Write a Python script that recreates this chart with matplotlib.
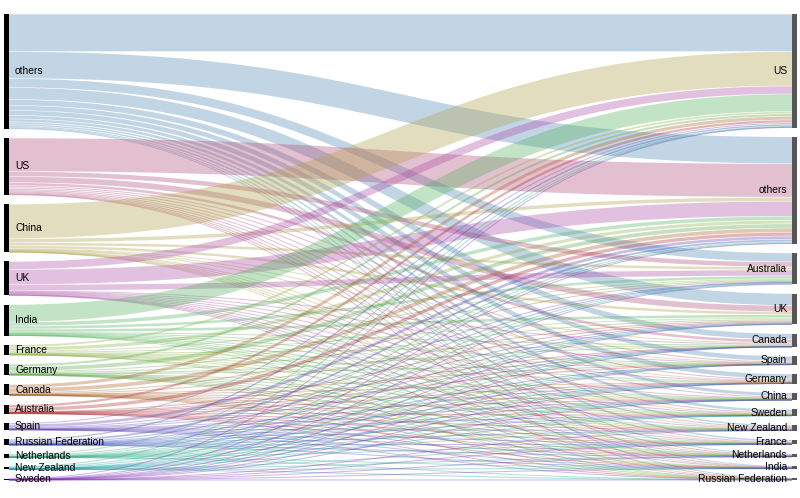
import numpy as np
import matplotlib
matplotlib.use("Agg")
import matplotlib.pyplot as plt
from matplotlib.path import Path
from matplotlib.patches import PathPatch, Rectangle

sources = ["others", "US", "China", "UK", "India", "France", "Germany", "Canada",
           "Australia", "Spain", "Russian Federation", "Netherlands", "New Zealand", "Sweden"]
targets = ["US", "others", "Australia", "UK", "Canada", "Spain", "Germany", "China",
           "Sweden", "New Zealand", "France", "Netherlands", "India", "Russian Federation"]

# flows[source][target], columns in the order of `targets`
flows = {
    "others":             [37.6, 27, 9, 12, 6, 5, 5, 3.5, 3, 2, 2, 1.2, 1, 0.7],
    "US":                 [0, 33.5, 5, 6.2, 3, 1.5, 1.5, 1.5, 1.2, 1, 1, 0.7, 0.5, 0.4],
    "China":              [34.5, 4, 3, 3, 1, 0.3, 0.6, 0, 0.5, 0.5, 0.3, 0.2, 0.1, 0.2],
    "UK":                 [8, 15.1, 6, 0, 1, 0.5, 0.6, 0.6, 0.4, 0.8, 0.4, 0.2, 0.3, 0.1],
    "India":              [17.5, 4, 3, 3, 1, 0.3, 0.6, 0.4, 0.4, 0.4, 0.2, 0.1, 0, 0.1],
    "France":             [2.3, 3.6, 1, 1.3, 0.5, 0.3, 0.4, 0.3, 0.2, 0.1, 0, 0.1, 0.1, 0.1],
    "Germany":            [2.6, 4.2, 1, 1.5, 0.3, 0.2, 0, 0.3, 0.2, 0.1, 0.2, 0.2, 0.1, 0.1],
    "Canada":             [3.6, 4.2, 1, 1, 0, 0.1, 0.2, 0.3, 0.1, 0.1, 0.1, 0.1, 0.1, 0.1],
    "Australia":          [2.8, 3.8, 0, 1, 0.2, 0.1, 0.2, 0.2, 0.1, 0.3, 0.1, 0.1, 0.1, 0.1],
    "Spain":              [1.5, 3.2, 0.5, 0.9, 0.1, 0, 0.2, 0.1, 0.1, 0.1, 0.1, 0.1, 0.1, 0.1],
    "Russian Federation": [1.8, 2.3, 0.4, 0.5, 0.1, 0.1, 0.2, 0.1, 0.1, 0.1, 0.1, 0.1, 0.1, 0],
    "Netherlands":        [0.9, 1.1, 0.4, 0.3, 0.05, 0.05, 0.05, 0.05, 0.05, 0.05, 0.05, 0, 0.05, 0.05],
    "New Zealand":        [0.4, 0.7, 1.0, 0.2, 0.05, 0.05, 0.05, 0.05, 0.05, 0, 0.05, 0.05, 0.05, 0.05],
    "Sweden":             [0.25, 0.45, 0.1, 0.1, 0.05, 0.05, 0.05, 0.05, 0, 0.05, 0.05, 0.05, 0.05, 0.05],
}

link_colors = {
    "others": "#5187b5", "US": "#b04b76", "China": "#b0a04b", "UK": "#ad4ba6",
    "India": "#51b15c", "France": "#8cb145", "Germany": "#58a845", "Canada": "#a96228",
    "Australia": "#b03030", "Spain": "#6245b7", "Russian Federation": "#3745b7",
    "Netherlands": "#28a97e", "New Zealand": "#0c9b9b", "Sweden": "#7e28b7",
}

W, H = 800, 498
fig = plt.figure(figsize=(W / 100, H / 100), dpi=100)
ax = fig.add_axes([0, 0, 1, 1])
ax.set_xlim(0, W)
ax.set_ylim(H, 0)
ax.axis("off")

M = np.array([flows[s] for s in sources], dtype=float)
row_tot = M.sum(axis=1)
col_tot = M.sum(axis=0)
top, bottom, pad = 14, 480, 9.2
k = (bottom - top - pad * (len(sources) - 1)) / M.sum()

def stack(tots):
    ys, y = [], top
    for t in tots:
        ys.append(y)
        y += t * k + pad
    return np.array(ys)

ly = stack(row_tot)
ry = stack(col_tot)

xl0, xl1 = 4, 9
xr0, xr1 = 792, 797

src_off = ly.copy()
tgt_off = ry.copy()
src_pos = np.zeros_like(M)
tgt_pos = np.zeros_like(M)
for i in range(len(sources)):
    for j in range(len(targets)):
        src_pos[i, j] = src_off[i]
        src_off[i] += M[i, j] * k
for j in range(len(targets)):
    for i in range(len(sources)):
        tgt_pos[i, j] = tgt_off[j]
        tgt_off[j] += M[i, j] * k

xm = (xl1 + xr0) / 2
for i, s in enumerate(sources):
    for j, t in enumerate(targets):
        v = M[i, j]
        if v <= 0:
            continue
        w = v * k
        y0 = src_pos[i, j] + w / 2
        y1 = tgt_pos[i, j] + w / 2
        lw_px = max(1.0, w - 0.5) if w > 1.5 else 1.0
        path = Path([(xl1, y0), (xm, y0), (xm, y1), (xr0, y1)],
                    [Path.MOVETO, Path.CURVE4, Path.CURVE4, Path.CURVE4])
        ax.add_patch(PathPatch(path, facecolor="none", edgecolor=link_colors[s],
                               alpha=0.35, lw=lw_px * 0.72, capstyle="butt"))

font = dict(family=["Liberation Sans", "DejaVu Sans"], fontsize=7.4, color="black")
for i, s in enumerate(sources):
    h = max(row_tot[i] * k, 1)
    ax.add_patch(Rectangle((xl0, ly[i]), xl1 - xl0, h, color="black", lw=0))
    ax.text(15, ly[i] + h / 2, s, ha="left", va="center", **font)
for j, t in enumerate(targets):
    h = max(col_tot[j] * k, 1)
    ax.add_patch(Rectangle((xr0, ry[j]), xr1 - xr0, h, color="#575757", lw=0))
    ax.text(787, ry[j] + h / 2, t, ha="right", va="center", **font)

fig.savefig("out.png", dpi=100)
